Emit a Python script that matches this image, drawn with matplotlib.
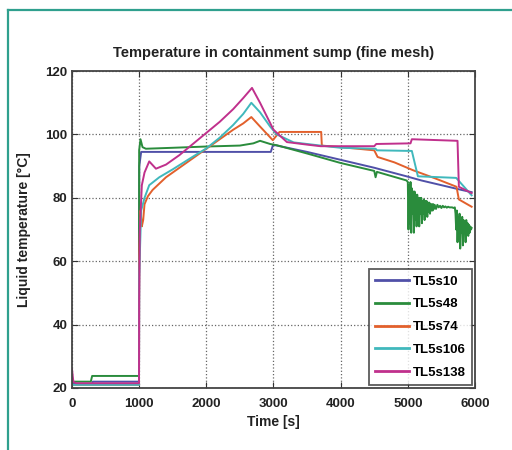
import matplotlib
matplotlib.use("Agg")
import matplotlib.pyplot as plt
from matplotlib.lines import Line2D

plt.rcParams['font.family'] = ['Liberation Sans', 'DejaVu Sans']
plt.rcParams['font.weight'] = 'bold'

# time [s] / temperature [C]
t_10 = [0, 50, 300, 310, 998, 1002, 1030, 2960, 2990, 3030, 3500, 4000, 4500,
        4980, 5200, 5500, 5800, 5950]
T_10 = [21.5, 21.3, 21.3, 22, 22, 90, 94.5, 94.5, 96.5, 96.6, 94.5, 92, 89.5,
        86.8, 85.5, 84, 82.5, 81.8]

t_48 = [0, 280, 300, 998, 1000, 1020, 1050, 1100, 1500, 2000, 2500, 2700, 2800,
        2950, 3050, 3500, 4000, 4500, 4520, 4540, 4980,
        5000, 5010, 5020, 5030, 5040, 5050, 5060, 5070, 5080, 5090, 5100, 5110,
        5120, 5130, 5140, 5150, 5160, 5170, 5180, 5190, 5200, 5210, 5220, 5230,
        5240, 5250, 5260, 5270, 5280, 5290, 5300, 5310, 5320, 5330, 5340, 5350,
        5360, 5370, 5380, 5390, 5400, 5420, 5440, 5460, 5480, 5500, 5520, 5540,
        5560, 5580, 5600, 5620, 5640, 5660, 5680, 5700,
        5710, 5720, 5730, 5740, 5750, 5760, 5770, 5780, 5790, 5800, 5810, 5820,
        5830, 5840, 5850, 5860, 5870, 5880, 5890, 5900, 5910, 5920, 5930, 5940,
        5950]
T_48 = [22, 22, 23.8, 23.8, 95, 98.5, 96, 95.5, 95.8, 96.2, 96.5, 97.2, 98,
        97, 96.6, 94, 91, 88.5, 86.5, 88.2, 85.5,
        85, 70, 84, 72, 85, 69, 83, 75, 82, 69, 82, 73, 81, 71, 81, 74,
        80, 71, 80, 75, 80, 72, 79, 75, 79.5, 73, 79, 75, 79, 74, 78.5, 75.5,
        78.5, 75, 78, 76, 78, 76, 78, 76.5, 77.8, 76.5, 77.8, 77, 77.5, 76.8,
        77.5, 77, 77.3, 76.9, 77.2, 77, 77, 77, 76.8, 77,
        75, 70, 76, 66, 74, 68, 75, 64, 73, 69, 74, 65, 73, 70, 72, 66,
        73, 69, 72, 68, 71.5, 69, 71, 70, 70.5]

t_74 = [0, 998, 1000, 1020, 1040, 1060, 1080, 1130, 1200, 1400, 1600, 1800, 2000,
        2200, 2400, 2550, 2670, 2800, 2990, 3090, 3710, 3720, 4000, 4500, 4550,
        4800, 5080, 5400, 5725, 5760, 5950]
T_74 = [21, 21, 60, 76, 71, 73, 78, 80.5, 82.5, 86.5, 89.5, 92.5, 95.5,
        98.5, 101.5, 103.5, 105.5, 102.5, 98.2, 100.8, 100.8, 96.5, 96, 95,
        92.9, 91.2, 88.7, 86.2, 83.5, 79.5, 77.2]

t_106 = [0, 998, 1000, 1030, 1080, 1150, 1300, 1500, 1800, 2000, 2200, 2400, 2550,
         2670, 2800, 2950, 3050, 3300, 3700, 4000, 4520, 4540, 5060, 5150, 5720,
         5950]
T_106 = [21, 21, 55, 76, 80, 84, 86.5, 89, 93, 95.6, 99, 103, 106.5,
         110, 107, 102.5, 100, 97.5, 96.5, 95.8, 95.5, 95, 94.8, 86.8, 86.3,
         80.8]

t_138 = [0, 20, 60, 998, 1000, 1010, 1040, 1080, 1150, 1250, 1400, 1600, 1800,
         2000, 2200, 2400, 2550, 2680, 2800, 3000, 3200, 3500, 3700, 4500, 4530,
         5040, 5060, 5740, 5760, 5950]
T_138 = [26, 22, 21.5, 21.5, 48, 70, 84, 88, 91.5, 89.2, 90.5, 93.5, 97,
         100.5, 104, 108, 111.5, 114.7, 110, 101.5, 97.6, 96.8, 96.3, 96.3, 97,
         97.2, 98.5, 98, 83.5, 81.5]

labels = ["TL5s10", "TL5s48", "TL5s74", "TL5s106", "TL5s138"]
colors = ["#5050a8", "#2a8c3c", "#e2602c", "#40b8bc", "#c0308c"]

fig = plt.figure(figsize=(5.12, 4.5), dpi=100)
ax = fig.add_axes([0.1406, 0.1378, 0.7871, 0.7042])

series = [(t_10, T_10), (t_48, T_48), (t_74, T_74), (t_106, T_106), (t_138, T_138)]
for (t, T), lab, c in zip(series, labels, colors):
    ax.plot(t, T, color=c, lw=1.4, label=lab)

ax.set_xlim(0, 6000)
ax.set_ylim(20, 120)
ax.set_xticks([0, 1000, 2000, 3000, 4000, 5000, 6000])
ax.set_yticks([20, 40, 60, 80, 100, 120])
ax.tick_params(direction='in', top=True, right=True, length=4, labelsize=9.5,
               color='#333333', labelcolor='#222222')
ax.tick_params(axis='x', pad=7)
ax.grid(True, linestyle=':', color='#666666', lw=0.9)
for s in ax.spines.values():
    s.set_color('#444444')
    s.set_linewidth(1.3)

ax.set_title("Temperature in containment sump (fine mesh)", fontsize=10.5,
             fontweight='bold', color='#222222', pad=10)
ax.set_xlabel("Time [s]", fontsize=10, fontweight='bold', color='#222222', labelpad=4)
ax.set_ylabel("Liquid temperature [°C]", fontsize=10, fontweight='bold',
              color='#222222', labelpad=10)

leg = ax.legend(loc='lower right', fontsize=9.5, frameon=True, fancybox=False,
                labelspacing=0.8, handlelength=2.6, handletextpad=0.3,
                borderaxespad=0.25, borderpad=0.45)
leg.get_frame().set_edgecolor('#333333')
leg.get_frame().set_linewidth(1.3)
for line in leg.get_lines():
    line.set_linewidth(2.0)

# teal frame of the page
fig.add_artist(Line2D([8 / 512, 8 / 512], [0, 1 - 10 / 450], color='#2fa08e', lw=1.6))
fig.add_artist(Line2D([8 / 512, 1], [1 - 10 / 450, 1 - 10 / 450], color='#2fa08e', lw=1.6))

fig.savefig("out.png", dpi=100)
